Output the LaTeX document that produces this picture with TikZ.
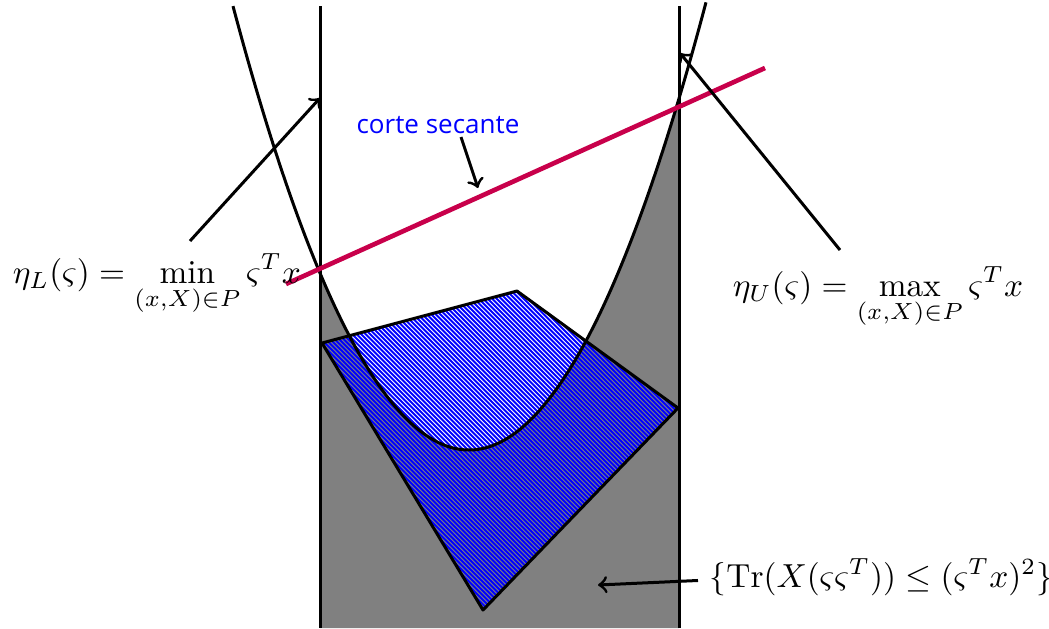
\documentclass[tikz,border=0pt]{standalone}
\usepackage{fontspec}
\newfontfamily\labelsans{Open Sans}
\definecolor{cutred}{RGB}{200,0,75}
\begin{document}
\begin{tikzpicture}[x=0.3pt,y=-0.3pt,
  bound/.style={line width=0.9pt,black},
  cut/.style={line width=1.4pt,cutred},
  pointer/.style={->,line width=0.9pt},
  hatchline/.style={blue,line width=0.55pt},
  mlabel/.style={anchor=base west}
]
\useasboundingbox (0,0) rectangle (1049,628);
% grey region outside the parabola
\fill[gray] (320,628) -- plot[domain=320:679,samples=90] (\x,{450-0.797*((\x-469)/10)^2}) -- (679,628) -- cycle;
% hatched polygon
\begin{scope}
  \clip (322,343) -- (517,291) -- (678,408) -- (483,610) -- cycle;
  \foreach \c in {-135,-130.5,...,280} {
    \draw[hatchline] ({280+\c},280) -- ({620+\c},620);
  }
\end{scope}
\draw[bound,line join=round] (322,343) -- (517,291) -- (678,408) -- (483,610) -- cycle;
% parabola
\draw[bound] plot[domain=233:706,samples=140] (\x,{450-0.797*((\x-469)/10)^2});
% vertical bounds
\draw[bound] (320,6) -- (320,628);
\draw[bound] (679,6) -- (679,628);
% secant cut
\draw[cut] (286,284) -- (765,68);
% labels
\node[text=blue,font=\labelsans\fontsize{7.8}{9}\selectfont] (corte) at (438,125) {corte secante};
\node[mlabel] (etaL) at (1,283) {$\displaystyle\eta_L(\varsigma) = \min_{(x,X)\in P} \varsigma^T x$};
\node[mlabel] (etaU) at (721,296) {$\displaystyle\eta_U(\varsigma) = \max_{(x,X)\in P} \varsigma^T x$};
\node[mlabel] (setlab) at (698,587) {$\{\mathrm{Tr}(X(\varsigma\varsigma^T)) \le (\varsigma^T x)^2\}$};
% arrows
\coordinate (csS) at (461,137);
\coordinate (csE) at (478,188);
\coordinate (lS) at (190,241);
\coordinate (lE) at (320,98);
\coordinate (uS) at (840,250);
\coordinate (uE) at (680,53);
\coordinate (setT) at (598,585);
\draw[pointer] (csS) -- (csE);
\draw[pointer] (lS) -- (lE);
\draw[pointer] (uS) -- (uE);
\draw[pointer] ([yshift=-1pt]setlab.west) -- (setT);
\end{tikzpicture}
\end{document}
